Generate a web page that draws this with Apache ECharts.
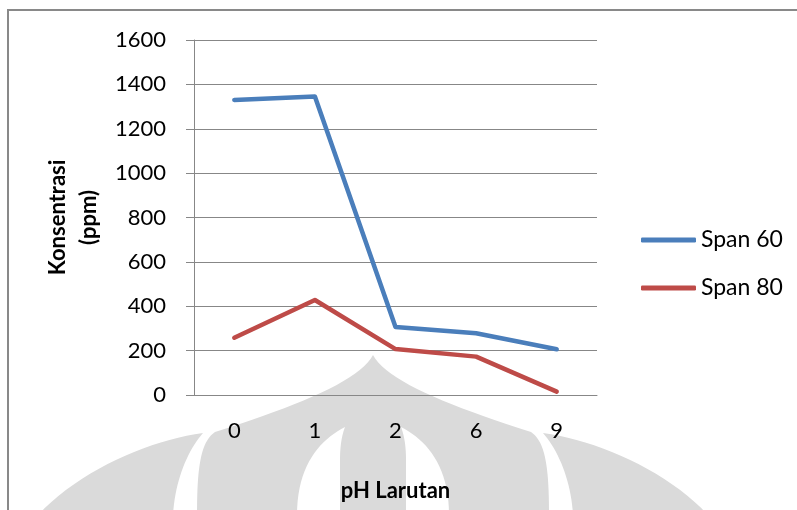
<!DOCTYPE html>
<html>
<head>
<meta charset="utf-8">
<script src="https://cdn.jsdelivr.net/npm/echarts@6/dist/echarts.min.js"></script>
<style>
  html, body { margin: 0; padding: 0; background: #fff; }
  #chart { width: 797px; height: 510px; }
</style>
</head>
<body>
<div id="chart"></div>
<script>
// pH of the solution (category axis)
const categories = ['0', '1', '2', '6', '9'];
// Concentration in ppm per span
const span60 = [1330, 1345, 306, 278, 206];
const span80 = [258, 428, 207, 173, 15];
const seriesNames = ['Span 60', 'Span 80'];
const yMin = 0, yMax = 1600, yStep = 200;

const FONT = 'Lato';
const GRAYLINE = '#878787';
const MARK = '#dadada';

// faint background emblem behind the chart: a pointed dome with two holes and two side petals
const emblem = [
  'M373 355 C360 380 300 405 215 432 C200 442 197 470 197 515 L549 515 C549 470 546 442 531 432 C446 405 386 380 373 355 Z',
  'M203 433 C150 440 80 470 38 515 L173 515 C175 480 188 450 203 433 Z',
  'M543 433 C596 440 666 470 708 515 L573 515 C571 480 558 450 543 433 Z'
];
const emblemCuts = [
  'M345 427 C320 440 297 465 297 515 L340 515 L340 460 C340 445 342 435 345 427 Z',
  'M401 427 C426 440 449 465 449 515 L406 515 L406 460 C406 445 404 435 401 427 Z'
];

// flatten a simple M/L/C/Q/Z outline into polygon points
function outline(d) {
  const tok = d.match(/[MLCQZ]|-?\d+(\.\d+)?/g);
  const pts = [];
  let i = 0, cur = [0, 0];
  const num = () => parseFloat(tok[i++]);
  while (i < tok.length) {
    const c = tok[i++];
    if (c === 'M' || c === 'L') { cur = [num(), num()]; pts.push(cur); }
    else if (c === 'Q') {
      const p1 = [num(), num()], p2 = [num(), num()], p0 = cur;
      for (let k = 1; k <= 16; k++) {
        const t = k / 16, u = 1 - t;
        pts.push([u*u*p0[0] + 2*u*t*p1[0] + t*t*p2[0], u*u*p0[1] + 2*u*t*p1[1] + t*t*p2[1]]);
      }
      cur = p2;
    } else if (c === 'C') {
      const p1 = [num(), num()], p2 = [num(), num()], p3 = [num(), num()], p0 = cur;
      for (let k = 1; k <= 20; k++) {
        const t = k / 20, u = 1 - t;
        pts.push([
          u*u*u*p0[0] + 3*u*u*t*p1[0] + 3*u*t*t*p2[0] + t*t*t*p3[0],
          u*u*u*p0[1] + 3*u*u*t*p1[1] + 3*u*t*t*p2[1] + t*t*t*p3[1]
        ]);
      }
      cur = p3;
    }
  }
  return pts;
}

const graphics = [];
emblem.forEach(p => graphics.push({ type: 'polygon', z: -20, silent: true, shape: { points: outline(p) }, style: { fill: MARK } }));
emblemCuts.forEach(p => graphics.push({ type: 'polygon', z: -19, silent: true, shape: { points: outline(p) }, style: { fill: '#ffffff' } }));
graphics.push({
  type: 'rect', z: -5, silent: true,
  shape: { x: 8, y: 10, width: 1000, height: 1000 },
  style: { fill: 'none', stroke: '#898989', lineWidth: 2 }
});

const chart = echarts.init(document.getElementById('chart'), null, { renderer: 'canvas' });
chart.setOption({
  animation: false,
  backgroundColor: '#ffffff',
  textStyle: { fontFamily: FONT },
  graphic: graphics,
  grid: { left: 194, right: 200, top: 40, bottom: 115, containLabel: false },
  legend: {
    orient: 'vertical',
    left: 636,
    top: 222,
    itemWidth: 55,
    itemHeight: 5,
    itemGap: 22,
    icon: 'roundRect',
    data: seriesNames,
    textStyle: { fontFamily: FONT, fontSize: 23, color: '#000', lineHeight: 26 }
  },
  xAxis: {
    type: 'category',
    data: categories,
    boundaryGap: true,
    axisLine: { show: true, lineStyle: { color: GRAYLINE, width: 1 } },
    axisTick: { show: false },
    axisLabel: { fontFamily: FONT, fontSize: 22, color: '#000', margin: 25 },
    splitLine: { show: false },
    name: 'pH Larutan',
    nameLocation: 'middle',
    nameGap: 85,
    nameTextStyle: { fontFamily: FONT, fontSize: 22, fontWeight: 'bold', color: '#000' }
  },
  yAxis: {
    type: 'value',
    min: yMin, max: yMax, interval: yStep,
    axisLine: { show: true, lineStyle: { color: GRAYLINE, width: 1 } },
    axisTick: { show: true, inside: false, length: 8, lineStyle: { color: GRAYLINE, width: 1 } },
    axisLabel: { fontFamily: FONT, fontSize: 22, color: '#000', margin: 28, formatter: v => String(v) },
    splitLine: { show: true, lineStyle: { color: GRAYLINE, width: 1 } },
    name: 'Konsentrasi\n(ppm)',
    nameLocation: 'middle',
    nameRotate: 90,
    nameGap: 82,
    nameTextStyle: { fontFamily: FONT, fontSize: 22, fontWeight: 'bold', color: '#000', lineHeight: 31, align: 'center' }
  },
  series: [
    {
      name: seriesNames[0], type: 'line', data: span60,
      symbol: 'none', showSymbol: false,
      color: '#4A7EBB',
      lineStyle: { width: 4.5, color: '#4A7EBB', cap: 'round', join: 'round' }
    },
    {
      name: seriesNames[1], type: 'line', data: span80,
      symbol: 'none', showSymbol: false,
      color: '#BE4B48',
      lineStyle: { width: 4.5, color: '#BE4B48', cap: 'round', join: 'round' }
    }
  ]
});
</script>
</body>
</html>
